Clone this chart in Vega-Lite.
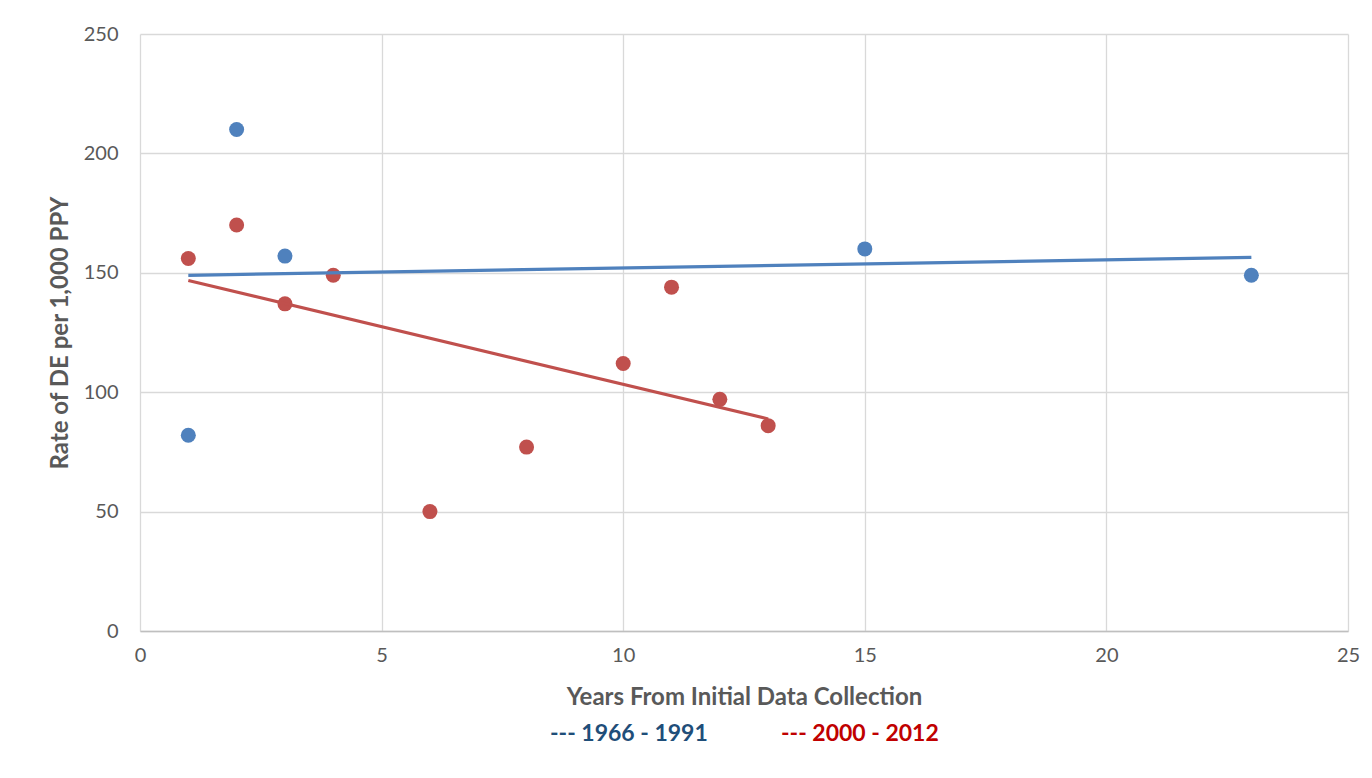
{
  "$schema": "https://vega.github.io/schema/vega-lite/v6.json",
  "width": 1208,
  "height": 597,
  "autosize": {"type": "none"},
  "padding": {"left": 140, "top": 34, "right": 24, "bottom": 147},
  "background": "white",
  "data": {
    "values": [
      {"years": 1, "rate": 82, "period": "1966 - 1991"},
      {"years": 2, "rate": 210, "period": "1966 - 1991"},
      {"years": 3, "rate": 157, "period": "1966 - 1991"},
      {"years": 15, "rate": 160, "period": "1966 - 1991"},
      {"years": 23, "rate": 149, "period": "1966 - 1991"},
      {"years": 1, "rate": 156, "period": "2000 - 2012"},
      {"years": 2, "rate": 170, "period": "2000 - 2012"},
      {"years": 3, "rate": 137, "period": "2000 - 2012"},
      {"years": 4, "rate": 149, "period": "2000 - 2012"},
      {"years": 6, "rate": 50, "period": "2000 - 2012"},
      {"years": 8, "rate": 77, "period": "2000 - 2012"},
      {"years": 10, "rate": 112, "period": "2000 - 2012"},
      {"years": 11, "rate": 144, "period": "2000 - 2012"},
      {"years": 12, "rate": 97, "period": "2000 - 2012"},
      {"years": 13, "rate": 86, "period": "2000 - 2012"}
    ]
  },
  "encoding": {
    "x": {
      "field": "years", "type": "quantitative",
      "scale": {"domain": [0, 25], "nice": false},
      "axis": {"values": [0, 5, 10, 15, 20, 25], "title": "Years From Initial Data Collection", "titlePadding": 20, "labelFlush": false}
    },
    "y": {
      "field": "rate", "type": "quantitative",
      "scale": {"domain": [0, 250], "nice": false},
      "axis": {"values": [0, 50, 100, 150, 200, 250], "title": "Rate of DE per 1,000 PPY", "titlePadding": 11, "domain": false, "labelFlush": false}
    },
    "color": {
      "field": "period", "type": "nominal",
      "scale": {"domain": ["1966 - 1991", "2000 - 2012"], "range": ["#4F81BD", "#C0504D"]},
      "legend": {
        "title": null,
        "orient": "none",
        "legendX": 387,
        "legendY": 688,
        "direction": "horizontal",
        "columns": 2,
        "columnPadding": 50,
        "symbolSize": 0,
        "symbolOpacity": 0,
        "symbolStrokeWidth": 0,
        "labelOffset": 0,
        "labelExpr": "'--- ' + datum.label",
        "labelFontSize": 23,
        "labelFontWeight": "bold",
        "labelFont": "Lato",
        "labelColor": {"expr": "datum.label == '1966 - 1991' ? '#1F4E79' : '#C00000'"}
      }
    }
  },
  "layer": [
    {
      "mark": {"type": "point", "filled": true, "opacity": 1, "size": 225}
    },
    {
      "transform": [{"regression": "rate", "on": "years", "groupby": ["period"]}],
      "mark": {"type": "line", "strokeWidth": 3.2}
    }
  ],
  "config": {
    "font": "Lato",
    "view": {"stroke": null},
    "axis": {
      "grid": true,
      "gridColor": "#d9d9d9",
      "gridWidth": 1.3,
      "ticks": false,
      "labelFontSize": 20,
      "labelColor": "#595959",
      "labelFont": "Lato",
      "titleFont": "Lato",
      "titleFontSize": 24,
      "titleFontWeight": "bold",
      "titleColor": "#595959",
      "domainColor": "#bfbfbf",
      "domainWidth": 1.3
    },
    "axisX": {"labelPadding": 14},
    "axisY": {"labelPadding": 22}
  }
}
